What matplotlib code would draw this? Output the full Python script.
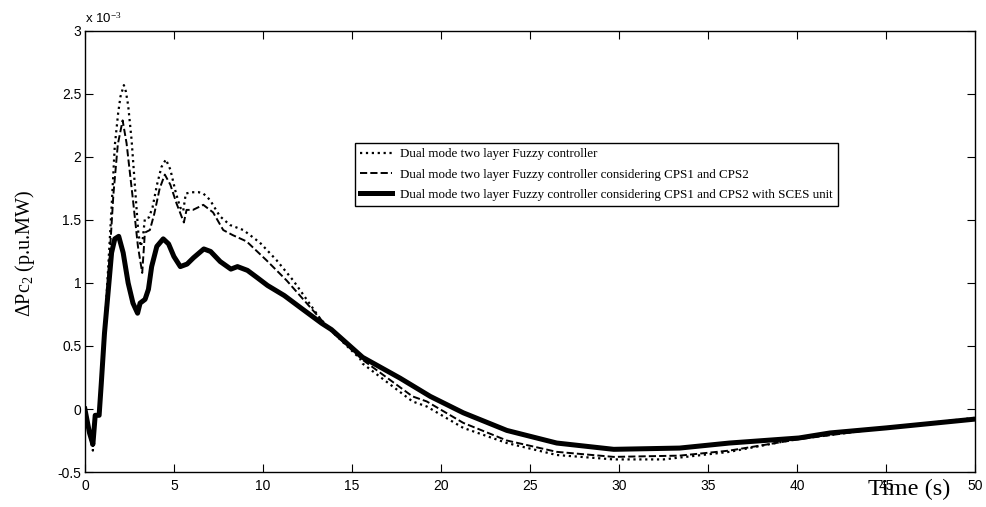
import matplotlib
matplotlib.use("Agg")
import matplotlib.pyplot as plt

# time (s) and response (x 1e-3 p.u.MW)
t_fuzzy = [0, 0.25, 0.45, 0.58, 0.8, 0.95, 1.1, 1.3, 1.5, 1.68, 1.87, 2.0, 2.19, 2.3, 2.43,
           2.62, 2.81, 3.0, 3.13, 3.25, 3.37, 3.6, 3.8, 4.05, 4.3, 4.55, 4.8, 5.1, 5.35, 5.52,
           5.67, 6.0, 6.4, 6.65, 7.02, 7.58, 8.15, 8.9, 9.83, 10.77, 11.7, 13.2, 13.76,
           15.45, 15.6, 18.4, 19.2, 21.25, 23.7, 26.5, 29.7, 32.5, 36.2, 40.1, 45.0, 50]
v_fuzzy = [0, -0.2, -0.33, -0.05, -0.05, 0.2, 0.6, 1.1, 1.6, 2.09, 2.35, 2.48, 2.57, 2.52, 2.41,
           2.14, 1.77, 1.4, 1.29, 1.35, 1.51, 1.52, 1.6, 1.78, 1.92, 1.98, 1.9, 1.72, 1.6, 1.57,
           1.71, 1.72, 1.72, 1.71, 1.66, 1.53, 1.46, 1.42, 1.32, 1.18, 1.02, 0.72, 0.63,
           0.40, 0.36, 0.06, 0.02, -0.15, -0.27, -0.365, -0.40, -0.40, -0.34, -0.235, -0.15, -0.07]

t_cps = [0, 0.25, 0.45, 0.58, 0.8, 0.95, 1.1, 1.3, 1.6, 1.85, 2.12, 2.34, 2.7, 2.98, 3.22,
         3.37, 3.65, 3.9, 4.2, 4.49, 4.8, 5.15, 5.56, 5.71, 6.07, 6.65, 7.2, 7.77, 8.3, 9.08,
         10.2, 11.33, 13.2, 13.76, 15.6, 18.4, 19.2, 21.25, 23.7, 26.5, 29.7, 33.4, 36.2,
         40.1, 45.0, 50]
v_cps = [0, -0.2, -0.31, -0.05, -0.05, 0.2, 0.55, 1.0, 1.7, 2.1, 2.29, 2.11, 1.66, 1.29, 1.08,
         1.40, 1.42, 1.55, 1.75, 1.86, 1.78, 1.63, 1.48, 1.58, 1.58, 1.62, 1.56, 1.42, 1.38, 1.33,
         1.18, 1.02, 0.72, 0.63, 0.39, 0.1, 0.06, -0.11, -0.25, -0.34, -0.38, -0.37, -0.33,
         -0.24, -0.15, -0.08]

t_sces = [0, 0.26, 0.45, 0.58, 0.8, 0.92, 1.1, 1.3, 1.5, 1.68, 1.9, 2.15, 2.43, 2.7, 2.96,
          3.1, 3.38, 3.57, 3.75, 4.04, 4.4, 4.7, 5.0, 5.36, 5.74, 6.1, 6.68, 7.06, 7.6, 8.2,
          8.57, 9.13, 9.7, 10.26, 11.2, 12.15, 13.3, 13.85, 15.6, 17.7, 19.4, 21.25, 23.7,
          26.5, 29.7, 33.4, 36.2, 40.1, 41.85, 45.0, 50]
v_sces = [0, -0.19, -0.28, -0.05, -0.05, 0.2, 0.6, 0.92, 1.24, 1.35, 1.37, 1.24, 1.0, 0.84, 0.76,
          0.84, 0.87, 0.95, 1.13, 1.29, 1.35, 1.31, 1.21, 1.13, 1.15, 1.2, 1.27, 1.25, 1.17, 1.11,
          1.13, 1.1, 1.04, 0.98, 0.9, 0.8, 0.68, 0.63, 0.41, 0.245, 0.1, -0.03, -0.17,
          -0.27, -0.32, -0.31, -0.27, -0.23, -0.19, -0.15, -0.08]

labels = ["Dual mode two layer Fuzzy controller",
          "Dual mode two layer Fuzzy controller considering CPS1 and CPS2",
          "Dual mode two layer Fuzzy controller considering CPS1 and CPS2 with SCES unit"]

plt.rcParams['mathtext.fontset'] = 'custom'
plt.rcParams['mathtext.rm'] = 'Liberation Serif'
plt.rcParams['mathtext.it'] = 'Liberation Serif:italic'

fig = plt.figure(figsize=(9.87, 5.07), dpi=100)
ax = fig.add_axes([0.086, 0.069, 0.902, 0.870])

ax.plot(t_fuzzy, v_fuzzy, color='black', linestyle=':', linewidth=1.6, label=labels[0])
ax.plot(t_cps, v_cps, color='black', linestyle='--', linewidth=1.4, label=labels[1])
ax.plot(t_sces, v_sces, color='black', linestyle='-', linewidth=3.6, label=labels[2])

ax.set_xlim(0, 50)
ax.set_ylim(-0.5, 3)
ax.set_xticks(range(0, 51, 5))
ax.set_yticks([-0.5, 0, 0.5, 1, 1.5, 2, 2.5, 3])
ax.set_yticklabels(['-0.5', '0', '0.5', '1', '1.5', '2', '2.5', '3'])
ax.tick_params(direction='in', top=True, right=True, length=5.5, width=0.8,
               labelsize=10, labelfontfamily='Liberation Sans')
ax.tick_params(axis='x', pad=5)
ax.tick_params(axis='y', pad=2.5)
for s in ax.spines.values():
    s.set_linewidth(1.0)

ax.text(0.0, 1.012, 'x 10$^{-3}$', transform=ax.transAxes, fontsize=9.5,
        family='Liberation Sans', ha='left', va='bottom')

fig.text(0.025, 0.50, 'ΔPc$_2$ (p.u.MW)', rotation=90, fontsize=14.5,
         family='Liberation Serif', ha='center', va='center')
fig.text(0.921, 0.034, 'Time (s)', fontsize=17.5, family='Liberation Serif',
         ha='center', va='center')

leg = ax.legend(loc='upper left', bbox_to_anchor=(0.303, 0.746), borderaxespad=0,
                fancybox=False, edgecolor='black', framealpha=1,
                prop={'family': 'Liberation Serif', 'size': 9.4},
                handlelength=2.5, handletextpad=0.6, labelspacing=0.62,
                borderpad=0.4)
leg.get_frame().set_linewidth(1.0)

fig.savefig('out.png', dpi=100)
